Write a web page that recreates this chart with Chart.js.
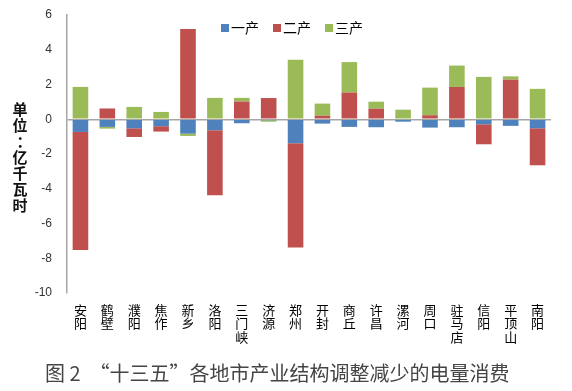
<!DOCTYPE html>
<html>
<head>
<meta charset="utf-8">
<script src="https://cdn.jsdelivr.net/npm/chart.js@4"></script>
<style>
  html, body { margin: 0; padding: 0; background: #fff; }
  #wrap { width: 572px; height: 391px; position: relative; }
</style>
</head>
<body>
<div id="wrap"><canvas id="myChart" width="572" height="391"></canvas></div>
<script>
const cities = ['安阳', '鹤壁', '濮阳', '焦作', '新乡', '洛阳', '三门峡', '济源', '郑州',
  '开封', '商丘', '许昌', '漯河', '周口', '驻马店', '信阳', '平顶山', '南阳'];
const yichan = [-0.73, -0.44, -0.52, -0.40, -0.83, -0.63, -0.23, -0.06, -1.38,
  -0.25, -0.44, -0.46, -0.14, -0.48, -0.46, -0.29, -0.38, -0.52];
const erchan = [-6.80, 0.62, -0.50, -0.31, 5.20, -3.74, 1.02, 1.22, -6.00,
  0.20, 1.54, 0.61, 0.00, 0.23, 1.86, -1.15, 2.28, -2.13];
const sanchan = [1.86, -0.10, 0.71, 0.42, -0.13, 1.23, 0.21, -0.08, 3.42,
  0.70, 1.75, 0.40, 0.55, 1.59, 1.23, 2.44, 0.19, 1.75];
const seriesNames = ['一产', '二产', '三产'];
const yLabel = '单位：亿千瓦时';
const chartTitle = '图 2  “十三五”各地市产业结构调整减少的电量消费';

const ctx = document.getElementById('myChart').getContext('2d');
const cjk = '"Noto Sans CJK SC", "Noto Sans", sans-serif';

// legend, y label and bottom caption drawn by hand
const extras = {
  id: 'extras',
  afterDraw(chart) {
    const c = chart.ctx;
    c.save();
    // legend inside plot
    let x = 221;
    chart.data.datasets.forEach(function(ds) {
      c.fillStyle = ds.backgroundColor;
      c.fillRect(x, 24, 8, 8);
      c.fillStyle = '#000';
      c.font = '14px ' + cjk;
      c.textBaseline = 'middle';
      c.textAlign = 'left';
      c.fillText(ds.label, x + 10, 28);
      x += 52;
    });
    // vertical y label, one char per line
    c.font = 'bold 15px ' + cjk;
    c.textAlign = 'center';
    c.fillStyle = '#111';
    const chars = yLabel.split('');
    for (let i = 0; i < chars.length; i++) {
      c.fillText(chars[i], chars[i] === '：' ? 24 : 20, 109 + i * 16);
    }
    // caption
    c.font = '20px ' + cjk;
    c.fillStyle = '#444';
    c.textAlign = 'left';
    c.fillText(chartTitle, 45, 373);
    c.restore();
  }
};

new Chart(ctx, {
  type: 'bar',
  data: {
    labels: cities.map(function(s) { return s.split(''); }),
    datasets: [
      { label: seriesNames[0], data: yichan, backgroundColor: '#4F81BD' },
      { label: seriesNames[1], data: erchan, backgroundColor: '#C0504D' },
      { label: seriesNames[2], data: sanchan, backgroundColor: '#9BBB59' }
    ]
  },
  options: {
    responsive: false,
    animation: false,
    layout: { padding: { top: 15, right: 21, left: 0, bottom: 0 } },
    datasets: { bar: { barPercentage: 0.58, categoryPercentage: 1.0 } },
    plugins: {
      legend: { display: false },
      tooltip: { enabled: false }
    },
    scales: {
      x: {
        stacked: true,
        grid: { display: false, drawTicks: false },
        border: { display: false },
        ticks: {
          padding: 10,
          maxRotation: 0,
          autoSkip: false,
          color: '#000',
          font: { family: cjk, size: 13, lineHeight: 1.05 }
        },
        afterFit: function(scale) { scale.height = 98; scale.paddingTop = 0; }
      },
      y: {
        stacked: true,
        min: -10,
        max: 6,
        ticks: {
          stepSize: 2,
          padding: 15,
          color: '#333',
          font: { family: '"Liberation Sans", sans-serif', size: 12 }
        },
        grid: {
          drawTicks: false,
          lineWidth: 1.5,
          color: function(c) { return c.tick && c.tick.value === 0 ? '#A6A6A6' : 'rgba(0,0,0,0)'; }
        },
        border: { display: true, color: '#A6A6A6', width: 1.5 },
        // pin the plot area: 6 at y=15, -10 at y=293
        afterFit: function(scale) { scale.width = 67; scale.paddingTop = 0; scale.paddingBottom = 0; }
      }
    }
  },
  plugins: [extras]
});
</script>
</body>
</html>
